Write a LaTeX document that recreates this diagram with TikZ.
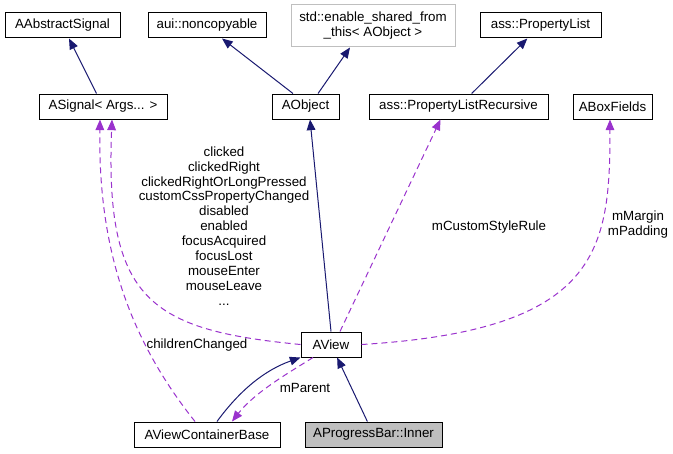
\documentclass[tikz,border=0pt]{standalone}
\usepackage{fontspec}
\setmainfont{Liberation Sans}
\usetikzlibrary{arrows.meta}
\definecolor{navyline}{HTML}{191970}
\definecolor{orchidline}{HTML}{9A32CD}
\definecolor{grayline}{HTML}{BFBFBF}
\tikzset{
    cls/.style = {rectangle, draw=black, line width=0.75pt, minimum height=18.75pt, inner sep=0pt, align=center, font=\fontsize{10}{11.2}\selectfont},
    clsg/.style = {cls, draw=grayline},
    clsh/.style = {cls, fill=grayline},
    lbl/.style = {align=center, inner sep=0pt, font=\fontsize{10}{11.2}\selectfont},
    edgei/.style = {-{Triangle[length=8pt,width=6.5pt]}, line width=0.75pt, navyline}, % inherits
    edgeu/.style = {-{Triangle[length=8pt,width=6.5pt]}, line width=0.75pt, orchidline, dash pattern=on 4.5pt off 3pt}, % uses
}
\begin{document}
\begin{tikzpicture}[x=0.75pt, y=-0.75pt]
\path[use as bounding box] (0, 0) rectangle (673, 453);
%
\node[cls, minimum width=86.25pt] at (62.5, 25.5) (aabs) {AAbstractSignal};
\node[cls, minimum width=88.5pt] at (207, 25.5) (nonc) {aui::noncopyable};
\node[clsg, minimum width=123pt, minimum height=31.5pt] at (373, 26) (esft) {std::enable\_shared\_from\\\_this< AObject >};
\node[cls, minimum width=90.75pt] at (540.5, 25.5) (plist) {ass::PropertyList};
\node[cls, minimum width=96pt] at (103, 106.5) (asig) {ASignal< Args... >};
\node[cls, minimum width=50.25pt] at (305.5, 106.5) (aobj) {AObject};
\node[cls, minimum width=134.25pt] at (458.5, 106.5) (plrec) {ass::PropertyListRecursive};
\node[cls, minimum width=59.25pt] at (612.5, 106.5) (abox) {ABoxFields};
\node[cls, minimum width=45pt] at (331, 344.5) (aview) {AView};
\node[cls, minimum width=109.5pt] at (207, 434.5) (avcb) {AViewContainerBase};
\node[clsh, minimum width=102.75pt] at (373.5, 434.5) (apbi) {AProgressBar::Inner};
%
\draw[edgei] (asig) -- (aabs);
\draw[edgei] ([xshift=-9.4pt]aobj.north) -- ([xshift=11.25pt]nonc.south);
\draw[edgei] ([xshift=9.4pt]aobj.north) -- ([xshift=-17.25pt]esft.south);
\draw[edgei] (plrec) -- (plist);
\draw[edgei] (aview.north) -- ([xshift=3.4pt]aobj.south);
\draw[edgei] ([xshift=7.5pt]avcb.north) .. controls (240, 390) and (265, 370) .. (aview.south west);
\draw[edgei] (apbi) -- (aview);
%
\draw[edgeu] ([xshift=-13.5pt]aview.south) .. controls (290, 372) and (255, 392) .. ([xshift=18.75pt]avcb.north);
\draw[edgeu] (aview.west) .. controls (150, 330) and (105, 300) .. ([xshift=6.75pt]asig.south);
\draw[edgeu] ([xshift=-9pt]avcb.north) .. controls (130, 340) and (98, 250) .. ([xshift=-2.25pt]asig.south);
\draw[edgeu] ([xshift=6.75pt]aview.north) -- ([xshift=-13.5pt]plrec.south);
\draw[edgeu] (aview.east) .. controls (600, 330) and (610, 250) .. ([xshift=-1.9pt]abox.south);
%
\node[lbl] at (224, 226) (sigs) {clicked\\clickedRight\\clickedRightOrLongPressed\\customCssPropertyChanged\\disabled\\enabled\\focusAcquired\\focusLost\\mouseEnter\\mouseLeave\\...};
\node[lbl] at (197, 345) (chch) {childrenChanged};
\node[lbl] at (305, 388) (mpar) {mParent};
\node[lbl] at (489, 227) (mcsr) {mCustomStyleRule};
\node[lbl] at (638, 225) (mmar) {mMargin\\mPadding};
\end{tikzpicture}
\end{document}
